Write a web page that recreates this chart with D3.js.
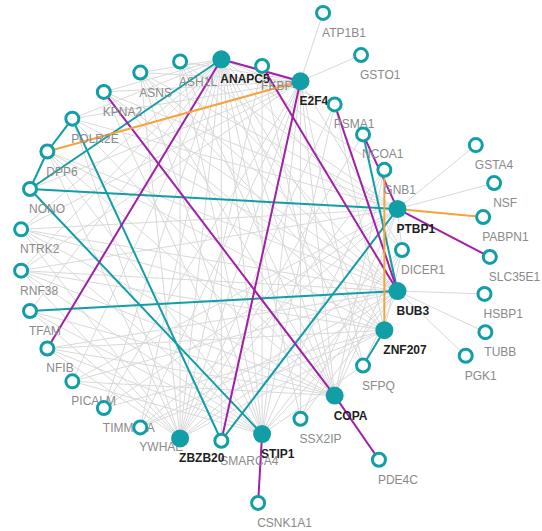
<!DOCTYPE html>
<html><head><meta charset="utf-8">
<script src="https://cdn.jsdelivr.net/npm/d3@7"></script>
<style>body{margin:0;background:#fff}svg{display:block}</style>
</head><body>
<svg id="chart" width="542" height="531"></svg>
<script>
// Nodes on the ring, in clockwise order starting from the rightmost (DICER1)
const ringNodes = ["DICER1","BUB3","ZNF207","SFPQ","COPA","SSX2IP","STIP1","SMARCA4","ZBZB20","YWHAE","TIMM17A","PICALM","NFIB","TFAM","RNF38","NTRK2","NONO","DPP6","POLR2E","KPNA2","ASNS","ASH1L","ANAPC5","FKBP4","E2F4","PSMA1","NCOA1","GNB1","PTBP1"];
// Hub (filled) nodes
const hubNodes = ["BUB3","ZNF207","COPA","STIP1","ZBZB20","ANAPC5","E2F4","PTBP1"];
// Leaf nodes outside the ring, attached to a hub
const leafNodes  = ["ATP1B1","GSTO1","GSTA4","NSF","PABPN1","SLC35E1","HSBP1","TUBB","PGK1","PDE4C","CSNK1A1"];
const leafParent = ["E2F4","E2F4","PTBP1","PTBP1","PTBP1","PTBP1","BUB3","BUB3","BUB3","COPA","STIP1"];
const leafAngle  = [-71.7,-23.4,-39.2,-15.0,5.4,27.5,1.9,25.1,43.5,55.4,93.3];
const leafDist   = [72,66,101,100,86,104,87,97,94,78,69];

// Highlighted interactions
const tealLinks = ["ANAPC5-NONO","NONO-STIP1","NONO-PTBP1","NONO-DPP6","DPP6-POLR2E","POLR2E-SMARCA4","TFAM-BUB3","SMARCA4-PTBP1","NCOA1-BUB3","ZNF207-SFPQ"];
const purpleLinks = ["ANAPC5-E2F4","ANAPC5-NFIB","KPNA2-COPA","COPA-PDE4C","E2F4-SMARCA4","FKBP4-BUB3","PSMA1-BUB3","NCOA1-PTBP1","PTBP1-SLC35E1","STIP1-CSNK1A1"];
const orangeLinks = ["DPP6-E2F4","PTBP1-PABPN1","GNB1-ZNF207"];
// Background interactions
const grayLinks = [
 "ANAPC5-ASNS","ANAPC5-KPNA2","ANAPC5-POLR2E","ANAPC5-NTRK2","ANAPC5-RNF38","ANAPC5-TFAM","ANAPC5-PICALM","ANAPC5-TIMM17A","ANAPC5-YWHAE","ANAPC5-SMARCA4","ANAPC5-SSX2IP","ANAPC5-SFPQ","ANAPC5-DICER1","ANAPC5-GNB1","ANAPC5-PSMA1",
 "E2F4-ATP1B1","E2F4-GSTO1","E2F4-ASH1L","E2F4-ASNS","E2F4-KPNA2","E2F4-POLR2E","E2F4-NONO","E2F4-NTRK2","E2F4-RNF38","E2F4-TIMM17A","E2F4-YWHAE","E2F4-ZBZB20","E2F4-SSX2IP","E2F4-SFPQ","E2F4-DICER1",
 "PTBP1-GSTA4","PTBP1-NSF","PTBP1-ASH1L","PTBP1-ASNS","PTBP1-KPNA2","PTBP1-POLR2E","PTBP1-NTRK2","PTBP1-RNF38","PTBP1-PICALM","PTBP1-TIMM17A","PTBP1-YWHAE","PTBP1-SSX2IP","PTBP1-DICER1",
 "BUB3-HSBP1","BUB3-TUBB","BUB3-PGK1","BUB3-ASH1L","BUB3-ASNS","BUB3-KPNA2","BUB3-POLR2E","BUB3-DPP6","BUB3-NTRK2","BUB3-RNF38","BUB3-NFIB","BUB3-PICALM","BUB3-YWHAE","BUB3-SSX2IP","BUB3-SFPQ",
 "ZNF207-ASNS","ZNF207-KPNA2","ZNF207-DPP6","ZNF207-NTRK2","ZNF207-RNF38","ZNF207-NFIB","ZNF207-TIMM17A","ZNF207-YWHAE","ZNF207-DICER1","ZNF207-PSMA1",
 "COPA-ASH1L","COPA-ASNS","COPA-POLR2E","COPA-DPP6","COPA-NTRK2","COPA-RNF38","COPA-TFAM","COPA-NFIB","COPA-PICALM","COPA-DICER1","COPA-GNB1","COPA-FKBP4",
 "STIP1-ASH1L","STIP1-ASNS","STIP1-KPNA2","STIP1-DPP6","STIP1-NTRK2","STIP1-RNF38","STIP1-TFAM","STIP1-NFIB","STIP1-PICALM","STIP1-DICER1","STIP1-GNB1","STIP1-FKBP4","STIP1-PSMA1","STIP1-SFPQ",
 "ZBZB20-ASH1L","ZBZB20-ASNS","ZBZB20-POLR2E","ZBZB20-DPP6","ZBZB20-NTRK2","ZBZB20-RNF38","ZBZB20-TFAM","ZBZB20-NFIB","ZBZB20-DICER1","ZBZB20-GNB1","ZBZB20-FKBP4","ZBZB20-PSMA1","ZBZB20-NCOA1",
 "ANAPC5-STIP1","ANAPC5-ZBZB20","ANAPC5-COPA","ANAPC5-ZNF207","E2F4-STIP1","E2F4-COPA","ZBZB20-BUB3","STIP1-BUB3","COPA-PTBP1","ZNF207-ZBZB20"
];

const W = 542, H = 531;
const svg = d3.select("#chart");
svg.append("rect").attr("width", W).attr("height", H).attr("fill", "#fff");

const TEAL = "#129ea6", PURPLE = "#a020a8", ORANGE = "#f5a43c", GRAY = "#d9d9d9";

// Circular layout via scales
const angleScale = d3.scaleLinear().domain([0, ringNodes.length]).range([0, 2 * Math.PI]);
const xScale = d3.scaleLinear().domain([-1, 1]).range([211 - 191, 211 + 191]);
const yScale = d3.scaleLinear().domain([-1, 1]).range([250 - 191, 250 + 191]);
const pos = {};
ringNodes.forEach((n, i) => {
  const a = angleScale(i);
  pos[n] = { x: xScale(Math.cos(a)), y: yScale(Math.sin(a)) };
});
const degScale = d3.scaleLinear().domain([0, 360]).range([0, 2 * Math.PI]);
leafNodes.forEach((n, i) => {
  const p = pos[leafParent[i]], a = degScale(leafAngle[i]);
  pos[n] = { x: p.x + leafDist[i] * Math.cos(a), y: p.y + leafDist[i] * Math.sin(a) };
});

const allNodes = ringNodes.concat(leafNodes);
const isHub = n => hubNodes.includes(n);
const parse = s => s.split("-");

function drawLinks(list, color, width) {
  svg.append("g").selectAll("line").data(list.map(parse)).join("line")
    .attr("x1", d => pos[d[0]].x).attr("y1", d => pos[d[0]].y)
    .attr("x2", d => pos[d[1]].x).attr("y2", d => pos[d[1]].y)
    .attr("stroke", color).attr("stroke-width", width).attr("stroke-linecap", "round");
}
drawLinks(grayLinks, GRAY, 1);
drawLinks(tealLinks, TEAL, 2);
drawLinks(purpleLinks, PURPLE, 2);
drawLinks(orangeLinks, ORANGE, 2);

// labels
svg.append("g").selectAll("text").data(allNodes).join("text")
  .attr("x", d => pos[d].x - 1).attr("y", d => pos[d].y + 24)
  .attr("font-family", "Liberation Sans, Arial, sans-serif")
  .attr("font-size", 12)
  .attr("font-weight", d => isHub(d) ? "bold" : "normal")
  .attr("fill", d => isHub(d) ? "#1e1e1e" : "#8a8a8a")
  .text(d => d);

// nodes
svg.append("g").selectAll("circle").data(allNodes).join("circle")
  .attr("cx", d => pos[d].x).attr("cy", d => pos[d].y)
  .attr("r", d => isHub(d) ? 9 : 6.5)
  .attr("fill", d => isHub(d) ? TEAL : "#fff")
  .attr("stroke", TEAL)
  .attr("stroke-width", d => isHub(d) ? 0 : 3);
</script>
</body></html>
